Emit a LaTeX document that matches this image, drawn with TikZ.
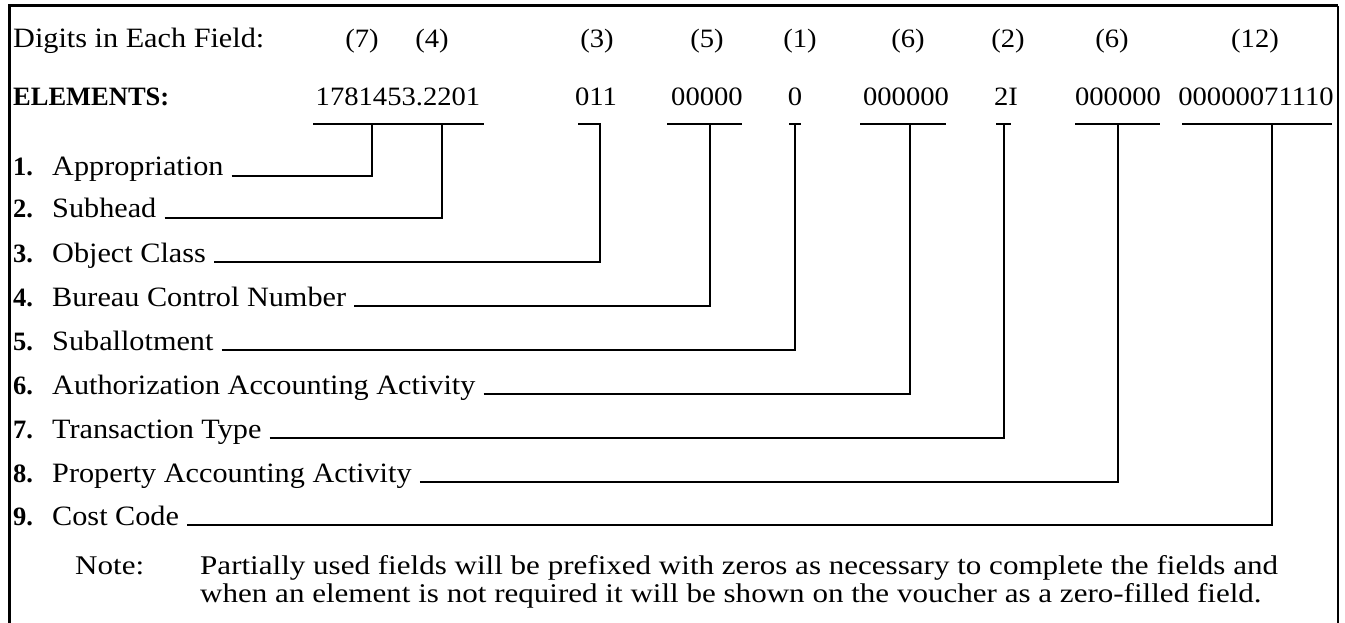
\documentclass[tikz,border=0pt]{standalone}
\usepackage{fontspec}
\setmainfont{Liberation Serif}[FakeStretch=1.08]
\newfontfamily\notefont{Liberation Serif}[FakeStretch=1.15]
\newfontfamily\boldserif{Liberation Serif}[UprightFont={* Bold}]
\begin{document}
\begin{tikzpicture}[x=1pt,y=-1pt,
  txt/.style={inner sep=0pt, anchor=base west, font=\fontsize{28}{32}\selectfont},
  ntxt/.style={inner sep=0pt, anchor=base west, font=\fontsize{27}{31}\notefont},
  ctxt/.style={inner sep=0pt, anchor=base, font=\fontsize{26.5}{30}\selectfont},
  num/.style={inner sep=0pt, anchor=base west, font=\fontsize{26.5}{30}\boldserif},
  conn/.style={line width=1.5pt},
  frame/.style={line width=3pt}]
\useasboundingbox (0,0) rectangle (1345,623);
% frame
\coordinate (ftl) at (9,6);
\coordinate (ftr) at (1338,6);
\coordinate (fbl) at (9,623);
\coordinate (fbr) at (1338,623);
\draw[frame] (fbl) -- (ftl) -- (ftr);
\draw[line width=1.5pt] (ftr) -- (fbr);
% header row
\node[txt] (hdr) at (13,48) {Digits in Each Field:};
\node[ctxt] (d1) at (362,48) {(7)};
\node[ctxt] (d2) at (432,48) {(4)};
\node[ctxt] (d3) at (597,48) {(3)};
\node[ctxt] (d4) at (707,48) {(5)};
\node[ctxt] (d5) at (800,48) {(1)};
\node[ctxt] (d6) at (908,48) {(6)};
\node[ctxt] (d7) at (1008,48) {(2)};
\node[ctxt] (d8) at (1112,48) {(6)};
\node[ctxt] (d9) at (1255,48) {(12)};
% elements row
\node[num] (elh) at (13,106) {ELEMENTS:};
\node[ctxt] (e1) at (398,106) {1781453.2201};
\node[ctxt] (e2) at (596,106) {011};
\node[ctxt] (e3) at (707,106) {00000};
\node[ctxt] (e4) at (795,106) {0};
\node[ctxt] (e5) at (906,106) {000000};
\node[ctxt] (e6) at (1006,106) {2I};
\node[ctxt] (e7) at (1118,106) {000000};
\node[ctxt] (e8) at (1256,106) {00000071110};
% underlines
\coordinate (u1a) at (313,124); \coordinate (u1b) at (484,124);
\coordinate (u2a) at (578,124); \coordinate (u2b) at (601,124);
\coordinate (u3a) at (667,124); \coordinate (u3b) at (742,124);
\coordinate (u4a) at (789,124); \coordinate (u4b) at (801,124);
\coordinate (u5a) at (860,124); \coordinate (u5b) at (946,124);
\coordinate (u6a) at (996,124); \coordinate (u6b) at (1011,124);
\coordinate (u7a) at (1075,124); \coordinate (u7b) at (1160,124);
\coordinate (u8a) at (1182,124); \coordinate (u8b) at (1332,124);
\foreach \u in {1,...,8}{\draw[conn] (u\u a) -- (u\u b);}
% tap points
\coordinate (t1) at (372,124);
\coordinate (t2) at (442,124);
\coordinate (t3) at (600,124);
\coordinate (t4) at (710,124);
\coordinate (t5) at (795,124);
\coordinate (t6) at (910,124);
\coordinate (t7) at (1004,124);
\coordinate (t8) at (1118,124);
\coordinate (t9) at (1272,124);
% list
\node[num] (n1) at (13,176) {1.};
\node[txt] (l1) at (52,176) {Appropriation};
\node[num] (n2) at (13,218) {2.};
\node[txt] (l2) at (52,218) {Subhead};
\node[num] (n3) at (13,262) {3.};
\node[txt] (l3) at (52,262) {Object Class};
\node[num] (n4) at (13,306) {4.};
\node[txt] (l4) at (52,306) {Bureau Control Number};
\node[num] (n5) at (13,350) {5.};
\node[txt] (l5) at (52,350) {Suballotment};
\node[num] (n6) at (13,394) {6.};
\node[txt] (l6) at (52,394) {Authorization Accounting Activity};
\node[num] (n7) at (13,438) {7.};
\node[txt] (l7) at (52,438) {Transaction Type};
\node[num] (n8) at (13,482) {8.};
\node[txt] (l8) at (52,482) {Property Accounting Activity};
\node[num] (n9) at (13,525) {9.};
\node[txt] (l9) at (52,525) {Cost Code};
% connectors
\foreach \i in {1,...,9}{
  \draw[conn] ([xshift=8pt]l\i.base east) -| (t\i);
}
% note
\node[ntxt] (note) at (75,574) {Note:};
\node[ntxt] (p1) at (200,574) {Partially used fields will be prefixed with zeros as necessary to complete the fields and};
\node[ntxt] (p2) at (200,602) {when an element is not required it will be shown on the voucher as a zero-filled field.};
\end{tikzpicture}
\end{document}
